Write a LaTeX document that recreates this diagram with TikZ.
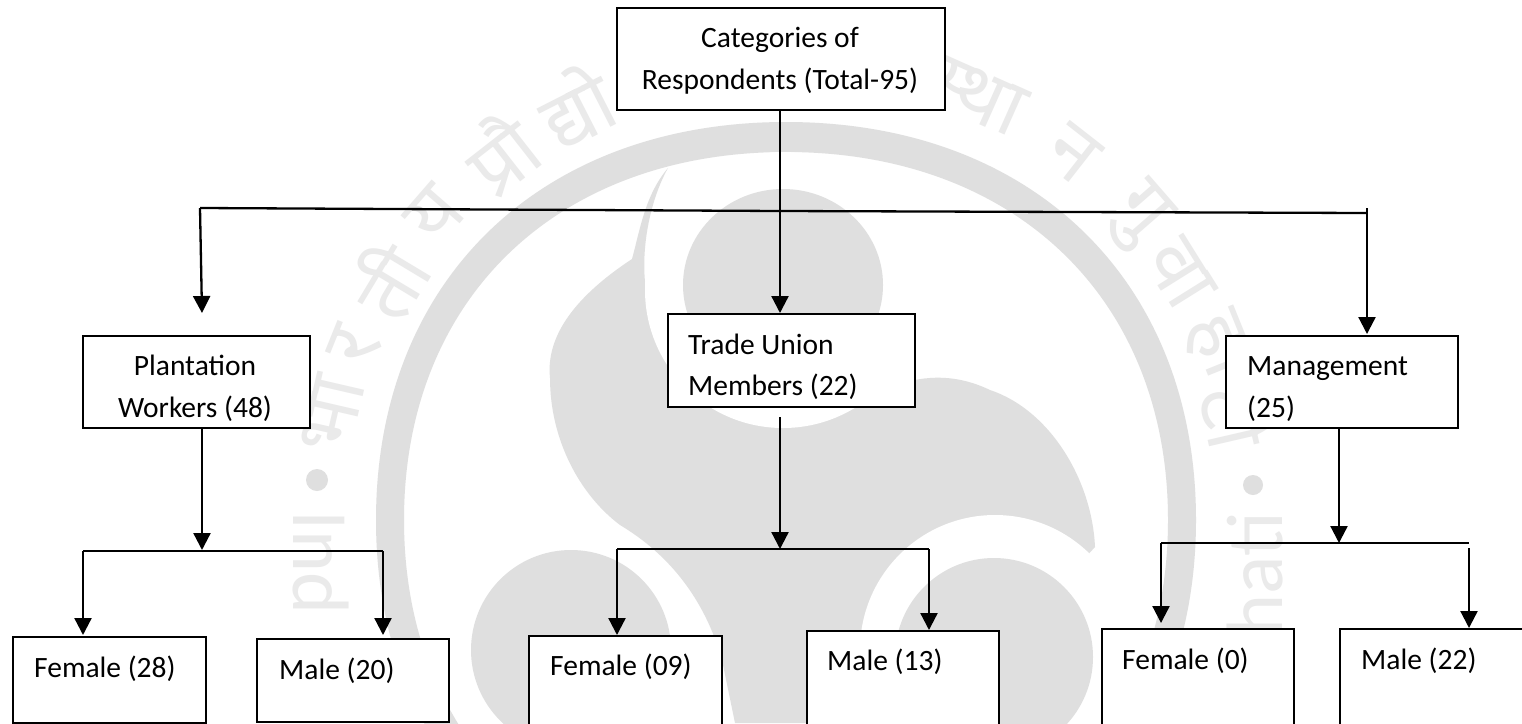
\documentclass[tikz,border=0pt]{standalone}
\usepackage{fontspec}
\setmainfont{Carlito}
\newfontfamily\devfont[Script=Devanagari]{Noto Sans}
\usetikzlibrary{arrows.meta}
\definecolor{wm}{HTML}{DFDFDF}
\definecolor{wmtext}{HTML}{EAEAEA}
\tikzset{
  boxn/.style={draw=black,fill=white,line width=2pt,inner sep=0pt,anchor=north west},
  txt/.style={inner sep=0pt,anchor=base west,font=\fontsize{29.5}{34}\selectfont,text=black},
  txtc/.style={txt,anchor=base},
  link/.style={line width=2.3pt,draw=black},
  arr/.style={link,-{Triangle[width=17pt,length=17pt]}},
  wmglyph/.style={inner sep=0pt,text=wmtext,font=\devfont\fontsize{80}{80}\selectfont},
  wmlatin/.style={inner sep=0pt,text=wmtext,font=\fontsize{80}{80}\selectfont}
}
\begin{document}
\begin{tikzpicture}[x=1pt,y=-1pt]
\useasboundingbox (0,0) rectangle (1522,723);
\fill[white] (0,0) rectangle (1522,723);
% watermark emblem
\begin{scope}
\clip (0,0) rectangle (1522,723);
\fill[wm,even odd rule]
  (1196,520) .. controls (1196,281) and (1032,122) .. (786,122)
  .. controls (540,122) and (376,281) .. (376,520)
  .. controls (376,759) and (540,918) .. (786,918)
  .. controls (1032,918) and (1196,759) .. (1196,520) -- cycle
  (1168,520) .. controls (1168,299) and (1015,152) .. (786,152)
  .. controls (557,152) and (404,299) .. (404,520)
  .. controls (404,741) and (557,888) .. (786,888)
  .. controls (1015,888) and (1168,741) .. (1168,520) -- cycle;
\fill[wm] (668,168) .. controls (645,195) and (640,230) .. (632,259)
  .. controls (585,290) and (545,330) .. (550,378)
  .. controls (550,440) and (580,495) .. (620,525)
  .. controls (670,555) and (705,600) .. (722,660)
  -- (735,723) -- (1000,723) -- (1000,650) -- (1095,547)
  .. controls (1092,480) and (1050,410) .. (990,390)
  .. controls (965,378) and (940,375) .. (915,380)
  -- (783,300) -- (646,290)
  .. controls (640,250) and (650,200) .. (668,168) -- cycle;
\fill[white] (783,290) circle[radius=138];
\fill[wm] (783,285) ellipse[x radius=100,y radius=96];
\fill[white] (995,650) circle[radius=135];
\fill[wm] (994,657) circle[radius=99];
\fill[wm] (571,650) circle[radius=100];
\fill[wm] (317,480) circle[radius=11];
\fill[wm] (1253,485) circle[radius=10];
\foreach \g/\a in {भा/167,र/158,ती/149,य/139,प्रौ/128,द्यो/117,स्था/66,न/52,गु/41,वा/32,हा/22,टी/13}{
  \node[wmglyph,rotate=\a-90] at ({786+465*cos(\a)},{520-465*sin(\a)}) {\g};
}
\node[wmlatin,rotate=-90,anchor=base west] at (293,510) {Ind};
\node[wmlatin,rotate=90,anchor=base east] at (1282,512) {hati};
\end{scope}
% boxes
\node (root) [boxn,minimum width=328pt,minimum height=102pt] at (616,7) {};
\node (plant) [boxn,minimum width=227pt,minimum height=92pt] at (82,335) {};
\node (union) [boxn,minimum width=247pt,minimum height=93pt] at (667,313) {};
\node (mgmt) [boxn,minimum width=232pt,minimum height=92pt] at (1225,335) {};
\node (f28) [boxn,minimum width=193pt,minimum height=86pt] at (12,636) {};
\node (m20) [boxn,minimum width=192pt,minimum height=83pt] at (256,638) {};
\node (f09) [boxn,minimum width=193pt,minimum height=100pt] at (528,635) {};
\node (m13) [boxn,minimum width=192pt,minimum height=105pt] at (806,630) {};
\node (f00) [boxn,minimum width=192pt,minimum height=110pt] at (1101,628) {};
\node (m22) [boxn,minimum width=195pt,minimum height=110pt] at (1339,628) {};
% text
\node (t1) [txtc] at (780,47) {Categories of};
\node (t2) [txtc] at (780,89) {Respondents (Total-95)};
\node (t3) [txtc] at (195,375) {Plantation};
\node (t4) [txtc] at (195,417) {Workers (48)};
\node (t5) [txt] at (688,354) {Trade Union};
\node (t6) [txt] at (688,395) {Members (22)};
\node (t7) [txt] at (1247,375) {Management};
\node (t8) [txt] at (1247,417) {(25)};
\node (t9) [txt] at (34,677) {Female (28)};
\node (t10) [txt] at (279,679) {Male (20)};
\node (t11) [txt] at (550,675) {Female (09)};
\node (t12) [txt] at (827,670) {Male (13)};
\node (t13) [txt] at (1122,669) {Female (0)};
\node (t14) [txt] at (1361,669) {Male (22)};
% junction points
\coordinate (busL) at (200,208);
\coordinate (busM) at (780,211);
\coordinate (busR) at (1367,213);
\coordinate (rtop) at (1367,208);
\coordinate (plantTip) at (202,313);
\coordinate (rootfoot) at (780,109);
\coordinate (unionTip) at (780,313);
\coordinate (mgmtTip) at (1367,334);
\coordinate (pJ) at (202,550);
\coordinate (pL) at (83,551);
\coordinate (pR) at (383,551);
\coordinate (pLt) at (83,635);
\coordinate (pRt) at (383,635);
\coordinate (uStart) at (780,417);
\coordinate (uJ) at (780,549);
\coordinate (uL) at (617,549);
\coordinate (uR) at (929,549);
\coordinate (uLt) at (617,635);
\coordinate (uRt) at (929,630);
\coordinate (mJ) at (1339,543);
\coordinate (mL) at (1161,543);
\coordinate (mR) at (1469,543);
\coordinate (mRs) at (1469,548);
\coordinate (mLt) at (1161,623);
\coordinate (mRt) at (1469,628);
% connectors
\draw[link] (busL) -- (busM) -- (busR);
\draw[arr] (busL) -- (plantTip);
\draw[arr] (rootfoot) -- (unionTip);
\draw[arr] (rtop) -- (mgmtTip);
\draw[arr] (plant.south -| pJ) -- (pJ);
\draw[link] (pL) -- (pR);
\draw[arr] (pL) -- (pLt);
\draw[arr] (pR) -- (pRt);
\draw[arr] (uStart) -- (uJ);
\draw[link] (uL) -- (uR);
\draw[arr] (uL) -- (uLt);
\draw[arr] (uR) -- (uRt);
\draw[arr] (mgmt.south -| mJ) -- (mJ);
\draw[link] (mL) -- (mR);
\draw[arr] (mL) -- (mLt);
\draw[arr] (mRs) -- (mRt);
\end{tikzpicture}
\end{document}
